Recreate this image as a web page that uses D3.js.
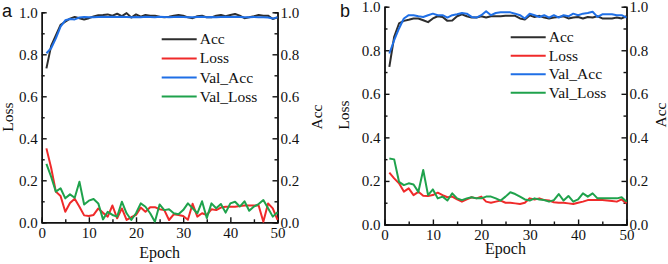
<!DOCTYPE html>
<html>
<head>
<meta charset="utf-8">
<script src="https://cdn.jsdelivr.net/npm/d3@7"></script>
<style>
  body { margin: 0; background: #fff; }
  svg text { font-family: "Liberation Serif", "Times New Roman", serif; fill: #111; }
  .panelTag { font-family: "Liberation Sans", Arial, sans-serif !important; }
</style>
</head>
<body>
<svg id="chart" width="668" height="264"></svg>
<script>
// epochs shared by both panels
var epochs = d3.range(1, 51);

var seriesNames = ["Acc", "Loss", "Val_Acc", "Val_Loss"];
var seriesColors = ["#2e2e2e", "#f02a2a", "#1f6fe6", "#1fa24c"];

var xTicks = [0, 10, 20, 30, 40, 50];
var yTicks = [0.0, 0.2, 0.4, 0.6, 0.8, 1.0];

// panel a
var accA = [0.733,0.84,0.89,0.94,0.955,0.97,0.978,0.972,0.966,0.972,
  0.98,0.986,0.987,0.99,0.984,0.993,0.982,0.996,0.975,0.99,
  0.979,0.987,0.984,0.984,0.979,0.976,0.979,0.984,0.987,0.984,
  0.976,0.972,0.981,0.984,0.976,0.976,0.984,0.987,0.981,0.987,
  0.992,0.984,0.972,0.976,0.981,0.987,0.984,0.984,0.968,0.976];
var lossA = [0.352,0.26,0.146,0.125,0.05,0.092,0.112,0.074,0.033,0.03,
  0.035,0.066,0.045,0.027,0.08,0.019,0.066,0.011,0.024,0.035,
  0.07,0.05,0.072,0.072,0.062,0.058,0.011,0.038,0.035,0.03,
  0.012,0.088,0.027,0.043,0.035,0.062,0.058,0.07,0.074,0.074,
  0.074,0.078,0.08,0.08,0.08,0.08,0.003,0.09,0.066,0.011];
var valAccA = [0.805,0.829,0.876,0.932,0.962,0.968,0.966,0.975,0.978,0.976,
  0.977,0.978,0.979,0.978,0.979,0.978,0.979,0.978,0.976,0.978,
  0.977,0.979,0.978,0.977,0.979,0.978,0.976,0.978,0.979,0.978,
  0.977,0.976,0.978,0.979,0.977,0.978,0.976,0.978,0.979,0.978,
  0.979,0.978,0.977,0.976,0.978,0.977,0.976,0.975,0.970,0.976];
var valLossA = [0.278,0.217,0.146,0.162,0.114,0.133,0.117,0.193,0.085,0.103,
  0.111,0.09,0.014,0.05,0.035,0.027,0.098,0.043,0.011,0.043,
  0.09,0.074,0.043,0.003,0.085,0.058,0.062,0.043,0.038,0.058,
  0.09,0.067,0.043,0.1,0.02,0.09,0.067,0.087,0.046,0.09,
  0.098,0.075,0.1,0.055,0.075,0.087,0.106,0.067,0.027,0.048];

// panel b
var accB = [0.724,0.862,0.923,0.935,0.94,0.946,0.946,0.938,0.929,0.946,
  0.956,0.953,0.935,0.937,0.956,0.965,0.956,0.95,0.95,0.956,
  0.95,0.956,0.956,0.956,0.958,0.958,0.958,0.946,0.941,0.96,
  0.953,0.958,0.95,0.946,0.95,0.953,0.956,0.946,0.95,0.953,
  0.946,0.953,0.95,0.956,0.946,0.946,0.946,0.95,0.946,0.956];
var lossB = [0.238,0.212,0.189,0.151,0.166,0.135,0.15,0.132,0.131,0.135,
  0.146,0.135,0.125,0.128,0.115,0.105,0.115,0.125,0.12,0.128,
  0.105,0.1,0.105,0.11,0.1,0.1,0.097,0.094,0.1,0.12,
  0.115,0.12,0.112,0.11,0.102,0.1,0.1,0.097,0.094,0.1,
  0.105,0.112,0.112,0.112,0.112,0.11,0.108,0.105,0.115,0.097];
var valAccB = [0.785,0.846,0.9,0.946,0.961,0.961,0.956,0.953,0.961,0.968,
  0.961,0.961,0.95,0.961,0.965,0.971,0.968,0.953,0.95,0.961,
  0.979,0.961,0.971,0.974,0.974,0.974,0.968,0.961,0.946,0.968,
  0.961,0.953,0.961,0.95,0.961,0.95,0.961,0.956,0.968,0.961,
  0.968,0.971,0.977,0.953,0.965,0.965,0.965,0.961,0.961,0.95];
var valLossB = [0.303,0.299,0.196,0.181,0.189,0.184,0.15,0.25,0.135,0.161,
  0.12,0.128,0.11,0.143,0.12,0.112,0.12,0.125,0.12,0.12,
  0.128,0.128,0.12,0.11,0.128,0.148,0.14,0.128,0.115,0.11,
  0.12,0.115,0.112,0.105,0.112,0.14,0.11,0.131,0.105,0.115,
  0.143,0.128,0.143,0.12,0.12,0.12,0.12,0.12,0.125,0.105];

var svg = d3.select("#chart");

function drawPanel(p) {
  var g = svg.append("g");

  var x = d3.scaleLinear().domain([0, 50]).range([p.left, p.right]);
  // Loss on the left, Acc on the right - both 0..1
  var yLoss = d3.scaleLinear().domain([0, 1]).range([p.bottom, p.top]);
  var yAcc = d3.scaleLinear().domain([0, 1]).range([p.bottom, p.top]);

  // minor ticks first
  g.append("g").attr("transform", "translate(0," + p.bottom + ")")
    .call(d3.axisBottom(x).tickValues([5, 15, 25, 35, 45]).tickSize(-3).tickFormat(""));
  g.append("g").attr("transform", "translate(" + p.left + ",0)")
    .call(d3.axisLeft(yLoss).tickValues([0.1, 0.3, 0.5, 0.7, 0.9]).tickSize(-3).tickFormat(""));
  g.append("g").attr("transform", "translate(" + p.right + ",0)")
    .call(d3.axisRight(yAcc).tickValues([0.1, 0.3, 0.5, 0.7, 0.9]).tickSize(-3).tickFormat(""));

  // major
  g.append("g").attr("class", "xAxis").attr("transform", "translate(0," + p.bottom + ")")
    .call(d3.axisBottom(x).tickValues(xTicks).tickSizeInner(-5).tickSizeOuter(0).tickPadding(5));
  g.append("g").attr("class", "yAxis").attr("transform", "translate(" + p.left + ",0)")
    .call(d3.axisLeft(yLoss).tickValues(yTicks).tickSizeInner(-5).tickSizeOuter(0).tickPadding(4)
      .tickFormat(d3.format(".1f")));
  g.append("g").attr("class", "yAxis").attr("transform", "translate(" + p.right + ",0)")
    .call(d3.axisRight(yAcc).tickValues(yTicks).tickSizeInner(-5).tickSizeOuter(0).tickPadding(3)
      .tickFormat(d3.format(".1f")));

  g.selectAll(".domain, .tick line").attr("stroke", "#111").attr("stroke-width", 1.4);
  g.selectAll(".tick text").attr("font-size", 15).attr("font-family", "Liberation Serif").attr("fill", "#111");

  // lines: Acc, Loss, Val_Acc, Val_Loss
  var sets = [p.acc, p.loss, p.valAcc, p.valLoss];
  var scales = [yAcc, yLoss, yAcc, yLoss];
  sets.forEach(function(vals, i) {
    var line = d3.line()
      .x(function(d, j) { return x(epochs[j]); })
      .y(function(d) { return scales[i](d); });
    g.append("path")
      .datum(vals)
      .attr("d", line)
      .attr("fill", "none")
      .attr("stroke", seriesColors[i])
      .attr("stroke-width", 2)
      .attr("stroke-linejoin", "round");
  });

  // legend
  seriesNames.forEach(function(name, i) {
    var yy = p.legY + i * p.legStep;
    g.append("line")
      .attr("x1", p.legX).attr("x2", p.legX + 35)
      .attr("y1", yy).attr("y2", yy)
      .attr("stroke", seriesColors[i]).attr("stroke-width", 2);
    g.append("text")
      .attr("x", p.legX + 38).attr("y", yy + 5)
      .attr("font-size", 15.5)
      .text(name);
  });

  // titles
  g.append("text")
    .attr("x", (p.left + p.right) / 2).attr("y", p.epochY)
    .attr("text-anchor", "middle").attr("font-size", 16)
    .text("Epoch");
  g.append("text")
    .attr("transform", "translate(" + p.lossX + "," + p.titleMid + ") rotate(-90)")
    .attr("text-anchor", "middle").attr("font-size", 15.5)
    .text("Loss");
  g.append("text")
    .attr("transform", "translate(" + p.accX + "," + p.titleMid + ") rotate(-90)")
    .attr("text-anchor", "middle").attr("font-size", 15.5)
    .text("Acc");

  g.append("text")
    .attr("class", "panelTag")
    .attr("x", p.tagX).attr("y", p.tagY)
    .attr("font-size", 18)
    .text(p.tag);
}

drawPanel({
  tag: "a", tagX: 2, tagY: 17,
  left: 41.7, right: 277.5, top: 12.3, bottom: 222.3,
  acc: accA, loss: lossA, valAcc: valAccA, valLoss: valLossA,
  legX: 161.7, legY: 39.3, legStep: 19.1,
  epochY: 258, lossX: 13, accX: 322, titleMid: 117
});

drawPanel({
  tag: "b", tagX: 340, tagY: 17,
  left: 384.5, right: 626.5, top: 6.7, bottom: 224.5,
  acc: accB, loss: lossB, valAcc: valAccB, valLoss: valLossB,
  legX: 510.7, legY: 37.3, legStep: 18.5,
  epochY: 254, lossX: 349, accX: 665.5, titleMid: 115
});
</script>
</body>
</html>
